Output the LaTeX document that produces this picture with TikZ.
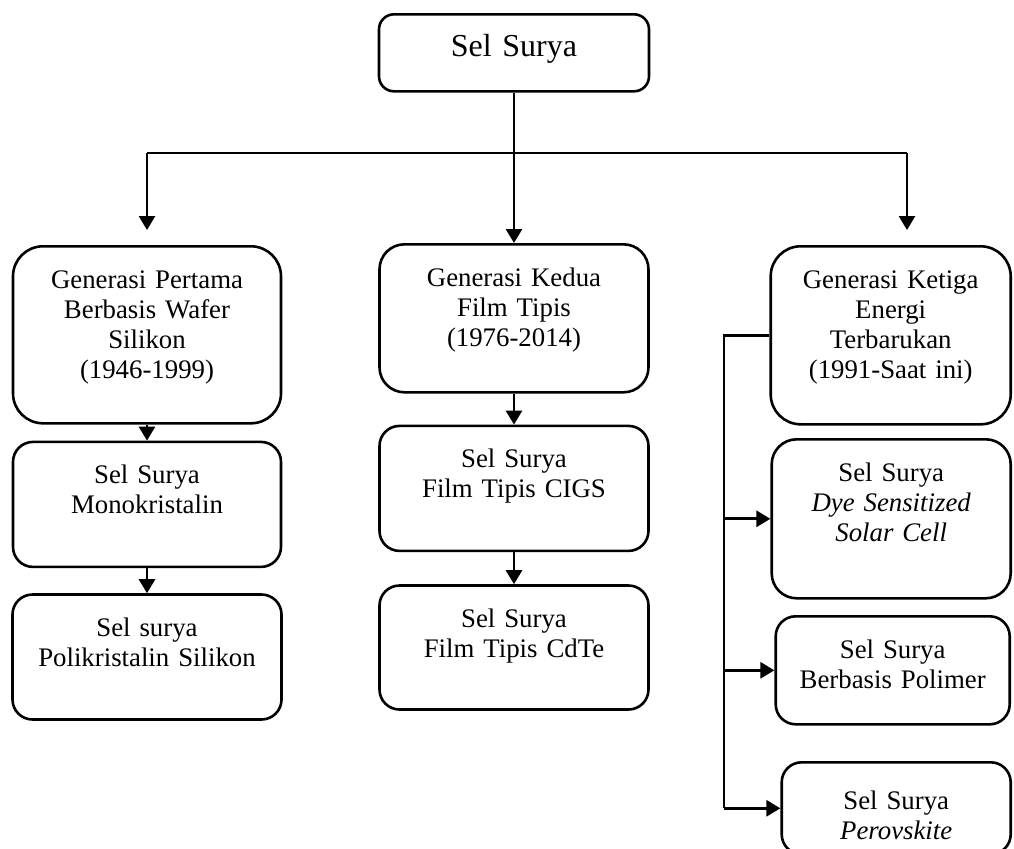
\documentclass[tikz,border=0pt]{standalone}
\usepackage{fontspec}
\setmainfont{Liberation Serif}
\usetikzlibrary{arrows.meta,positioning}

\begin{document}
\begin{tikzpicture}[
  x=0.5pt, y=-0.5pt,
  every node/.style={font=\fontsize{13.4}{15}\selectfont},
  box/.style={draw, line width=1.3pt, rounded corners=10pt, align=center,
              inner xsep=0pt, inner ysep=0pt, text height=21pt, anchor=north},
  mid/.style={box, rounded corners=12.5pt},
  big/.style={box, rounded corners=15pt},
  line/.style={line width=1.4pt},
  arr/.style={line, -{Triangle[length=7pt,width=8pt]}},
]
\useasboundingbox (0,0) rectangle (1014,848);
\clip (0,0) rectangle (1014,848);

%% Root
\node[box, rounded corners=7.5pt, text width=135pt, text depth=17.5pt,
      font=\fontsize{16}{19}\selectfont] (sel) at (514,13) {Sel Surya};

%% Generations
\node[big, text width=134pt, text depth=67.5pt] (gen1) at (147,245)
  {Generasi Pertama\\Berbasis Wafer\\Silikon\\(1946-1999)};
\node[mid, text width=134.5pt, text depth=53pt] (gen2) at (514,243)
  {Generasi Kedua\\Film Tipis\\(1976-2014)};
\node[big, text width=120pt, text depth=68pt, anchor=north east] (gen3) at (1012,245)
  {Generasi Ketiga\\Energi\\Terbarukan\\(1991-Saat ini)};

%% First generation
\node[box, text width=134pt, text depth=41.5pt, below=8pt of gen1] (mono)
  {Sel Surya\\Monokristalin};
\node[box, text width=134.5pt, text depth=41.5pt, below=12.5pt of mono] (poli)
  {Sel surya\\Polikristalin Silikon};

%% Second generation
\node[box, text width=134.5pt, text depth=41.5pt, below=15.5pt of gen2] (cigs)
  {Sel Surya\\Film Tipis CIGS};
\node[box, text width=134.5pt, text depth=41pt, below=16pt of cigs] (cdte)
  {Sel Surya\\Film Tipis CdTe};

%% Third generation
\node[mid, text width=119.5pt, text depth=58.5pt, anchor=north east] (dssc) at (1012,438)
  {Sel Surya\\\textit{Dye Sensitized}\\\textit{Solar Cell}};
\node[box, text width=117pt, text depth=33pt, anchor=north east] (polim) at (1011,615)
  {Sel Surya\\Berbasis Polimer};
\node[box, text width=114.5pt, text height=23.5pt, text depth=22.5pt, anchor=north east] (perov) at (1012,761)
  {Sel Surya\\\textit{Perovskite}};

%% Connectors
\coordinate (busL) at (147,153);
\coordinate (busR) at (907,153);
\coordinate (trunk) at (724,0);

\draw[arr] (sel.south) -- (gen2.north);
\draw[line] (busL) -- (busR);
\draw[arr, shorten >=7.5pt] (busL) -- (gen1.north);
\draw[arr, shorten >=7.5pt] (busR) -- (busR |- gen3.north);
\draw[arr] (gen1) -- (mono);
\draw[arr] (mono) -- (poli);
\draw[arr] (gen2) -- (cigs);
\draw[arr] (cigs) -- (cdte);
\draw[line] (gen3.west) -- (trunk |- gen3.west) -- (trunk |- perov.west);
\foreach \n in {dssc,polim,perov}
  \draw[arr] (trunk |- \n.west) -- (\n.west);

\end{tikzpicture}
\end{document}
